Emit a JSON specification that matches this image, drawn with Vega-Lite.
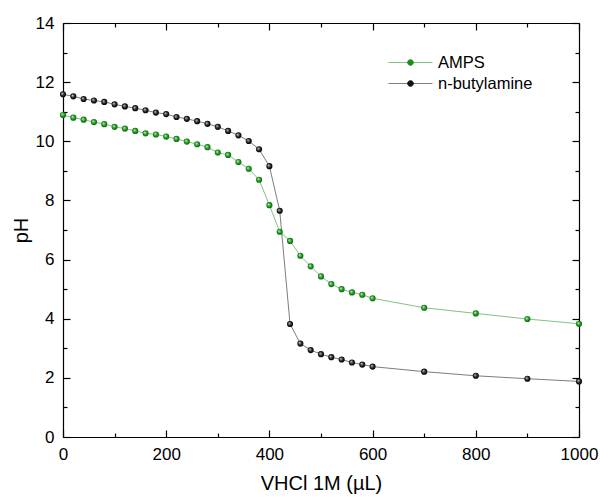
{
  "$schema": "https://vega.github.io/schema/vega-lite/v6.json",
  "width": 516,
  "height": 414,
  "autosize": {"type": "none"},
  "padding": {"left": 63, "top": 23, "right": 21, "bottom": 63},
  "background": "white",
  "config": {
    "font": "Liberation Sans",
    "view": {"stroke": null},
    "axis": {
      "grid": false,
      "labelFont": "Liberation Sans",
      "titleFont": "Liberation Sans",
      "labelFontSize": 17,
      "titleFontSize": 20,
      "titleFontWeight": "normal",
      "labelColor": "#000",
      "titleColor": "#000",
      "tickColor": "#000",
      "domainColor": "#000",
      "domainWidth": 1.2,
      "tickWidth": 1.2,
      "labelFlush": false
    },
    "legend": {"labelFont": "Liberation Sans", "labelFontSize": 16.5, "labelColor": "#000"}
  },
  "data": {
    "values": [
      {"series": "AMPS", "v": 0, "pH": 10.89}, {"series": "AMPS", "v": 20, "pH": 10.80}, {"series": "AMPS", "v": 40, "pH": 10.73},
      {"series": "AMPS", "v": 60, "pH": 10.65}, {"series": "AMPS", "v": 80, "pH": 10.58}, {"series": "AMPS", "v": 100, "pH": 10.49},
      {"series": "AMPS", "v": 120, "pH": 10.43}, {"series": "AMPS", "v": 140, "pH": 10.35}, {"series": "AMPS", "v": 160, "pH": 10.27},
      {"series": "AMPS", "v": 180, "pH": 10.23}, {"series": "AMPS", "v": 200, "pH": 10.16}, {"series": "AMPS", "v": 220, "pH": 10.08},
      {"series": "AMPS", "v": 240, "pH": 9.99}, {"series": "AMPS", "v": 260, "pH": 9.90}, {"series": "AMPS", "v": 280, "pH": 9.80},
      {"series": "AMPS", "v": 300, "pH": 9.62}, {"series": "AMPS", "v": 320, "pH": 9.54}, {"series": "AMPS", "v": 340, "pH": 9.30},
      {"series": "AMPS", "v": 360, "pH": 9.07}, {"series": "AMPS", "v": 380, "pH": 8.70}, {"series": "AMPS", "v": 400, "pH": 7.84},
      {"series": "AMPS", "v": 420, "pH": 6.94}, {"series": "AMPS", "v": 440, "pH": 6.63}, {"series": "AMPS", "v": 460, "pH": 6.13},
      {"series": "AMPS", "v": 480, "pH": 5.77}, {"series": "AMPS", "v": 500, "pH": 5.43}, {"series": "AMPS", "v": 520, "pH": 5.17},
      {"series": "AMPS", "v": 540, "pH": 5.00}, {"series": "AMPS", "v": 560, "pH": 4.89}, {"series": "AMPS", "v": 580, "pH": 4.81},
      {"series": "AMPS", "v": 600, "pH": 4.69}, {"series": "AMPS", "v": 700, "pH": 4.37}, {"series": "AMPS", "v": 800, "pH": 4.18},
      {"series": "AMPS", "v": 900, "pH": 3.99}, {"series": "AMPS", "v": 1000, "pH": 3.83},
      {"series": "n-butylamine", "v": 0, "pH": 11.59}, {"series": "n-butylamine", "v": 20, "pH": 11.52}, {"series": "n-butylamine", "v": 40, "pH": 11.43},
      {"series": "n-butylamine", "v": 60, "pH": 11.38}, {"series": "n-butylamine", "v": 80, "pH": 11.33}, {"series": "n-butylamine", "v": 100, "pH": 11.25},
      {"series": "n-butylamine", "v": 120, "pH": 11.18}, {"series": "n-butylamine", "v": 140, "pH": 11.12}, {"series": "n-butylamine", "v": 160, "pH": 11.05},
      {"series": "n-butylamine", "v": 180, "pH": 10.97}, {"series": "n-butylamine", "v": 200, "pH": 10.92}, {"series": "n-butylamine", "v": 220, "pH": 10.82},
      {"series": "n-butylamine", "v": 240, "pH": 10.76}, {"series": "n-butylamine", "v": 260, "pH": 10.68}, {"series": "n-butylamine", "v": 280, "pH": 10.59},
      {"series": "n-butylamine", "v": 300, "pH": 10.49}, {"series": "n-butylamine", "v": 320, "pH": 10.35}, {"series": "n-butylamine", "v": 340, "pH": 10.20},
      {"series": "n-butylamine", "v": 360, "pH": 10.01}, {"series": "n-butylamine", "v": 380, "pH": 9.73}, {"series": "n-butylamine", "v": 400, "pH": 9.16},
      {"series": "n-butylamine", "v": 420, "pH": 7.65}, {"series": "n-butylamine", "v": 440, "pH": 3.82}, {"series": "n-butylamine", "v": 460, "pH": 3.16},
      {"series": "n-butylamine", "v": 480, "pH": 2.94}, {"series": "n-butylamine", "v": 500, "pH": 2.80}, {"series": "n-butylamine", "v": 520, "pH": 2.70},
      {"series": "n-butylamine", "v": 540, "pH": 2.62}, {"series": "n-butylamine", "v": 560, "pH": 2.52}, {"series": "n-butylamine", "v": 580, "pH": 2.45},
      {"series": "n-butylamine", "v": 600, "pH": 2.38}, {"series": "n-butylamine", "v": 700, "pH": 2.21}, {"series": "n-butylamine", "v": 800, "pH": 2.07},
      {"series": "n-butylamine", "v": 900, "pH": 1.97}, {"series": "n-butylamine", "v": 1000, "pH": 1.88}
    ]
  },
  "layer": [
    {
      "mark": {"type": "line", "strokeWidth": 1, "strokeOpacity": 0.55},
      "encoding": {
        "x": {"field": "v", "type": "quantitative", "scale": {"domain": [0, 1000], "nice": false},
          "axis": {"orient": "bottom", "values": [0, 200, 400, 600, 800, 1000], "format": "d", "tickSize": -7, "labelPadding": 16, "title": "VHCl 1M (µL)", "titlePadding": 11}},
        "y": {"field": "pH", "type": "quantitative", "scale": {"domain": [0, 14], "nice": false},
          "axis": {"orient": "left", "values": [0, 2, 4, 6, 8, 10, 12, 14], "format": "d", "tickSize": -7, "labelPadding": 16, "title": "pH", "titlePadding": 4}},
        "color": {"field": "series", "type": "nominal",
          "scale": {"domain": ["AMPS", "n-butylamine"], "range": ["#1a8f1a", "#111111"]},
          "legend": {"title": null, "orient": "none", "legendX": 337, "legendY": 29, "padding": 0,
            "symbolType": "M-2.2,0L2.2,0M-0.3,0A0.3,0.3,0,1,0,0.3,0A0.3,0.3,0,1,0,-0.3,0",
            "symbolSize": 400, "symbolStrokeWidth": 1, "labelOffset": 17, "rowPadding": 2,
            "encode": {"symbols": {"update": {"fill": {"scale": "color", "field": "value"}, "strokeOpacity": {"value": 0.55}, "fillOpacity": {"value": 1}, "opacity": {"value": 1}}}}}}
      }
    },
    {
      "transform": [{"filter": "datum.series === 'AMPS'"}],
      "mark": {"type": "point", "filled": true, "size": 38, "opacity": 1,
        "fill": {"gradient": "radial", "x1": 0.35, "y1": 0.35, "r1": 0, "x2": 0.5, "y2": 0.5, "r2": 0.55,
          "stops": [{"offset": 0, "color": "#c9f5c9"}, {"offset": 0.55, "color": "#1e9a1e"}, {"offset": 1, "color": "#0a5a0a"}]}},
      "encoding": {
        "x": {"field": "v", "type": "quantitative",
          "axis": {"orient": "bottom", "values": [100, 300, 500, 700, 900], "tickSize": -4, "labels": false, "domain": false, "title": null}},
        "y": {"field": "pH", "type": "quantitative",
          "axis": {"orient": "left", "values": [1, 3, 5, 7, 9, 11, 13], "tickSize": -4, "labels": false, "domain": false, "title": null}}
      }
    },
    {
      "transform": [{"filter": "datum.series === 'n-butylamine'"}],
      "mark": {"type": "point", "filled": true, "size": 38, "opacity": 1,
        "fill": {"gradient": "radial", "x1": 0.35, "y1": 0.35, "r1": 0, "x2": 0.5, "y2": 0.5, "r2": 0.55,
          "stops": [{"offset": 0, "color": "#d0d0d0"}, {"offset": 0.55, "color": "#222222"}, {"offset": 1, "color": "#000000"}]}},
      "encoding": {
        "x": {"field": "v", "type": "quantitative",
          "axis": {"orient": "top", "values": [0, 200, 400, 600, 800, 1000], "tickSize": -7, "labels": false, "title": null}},
        "y": {"field": "pH", "type": "quantitative",
          "axis": {"orient": "right", "values": [0, 2, 4, 6, 8, 10, 12, 14], "tickSize": -7, "labels": false, "title": null}}
      }
    },
    {
      "mark": {"type": "point", "opacity": 0},
      "encoding": {
        "x": {"field": "v", "type": "quantitative",
          "axis": {"orient": "top", "values": [100, 300, 500, 700, 900], "tickSize": -4, "labels": false, "domain": false, "title": null}},
        "y": {"field": "pH", "type": "quantitative",
          "axis": {"orient": "right", "values": [1, 3, 5, 7, 9, 11, 13], "tickSize": -4, "labels": false, "domain": false, "title": null}}
      }
    }
  ],
  "resolve": {"axis": {"x": "independent", "y": "independent"}}
}
